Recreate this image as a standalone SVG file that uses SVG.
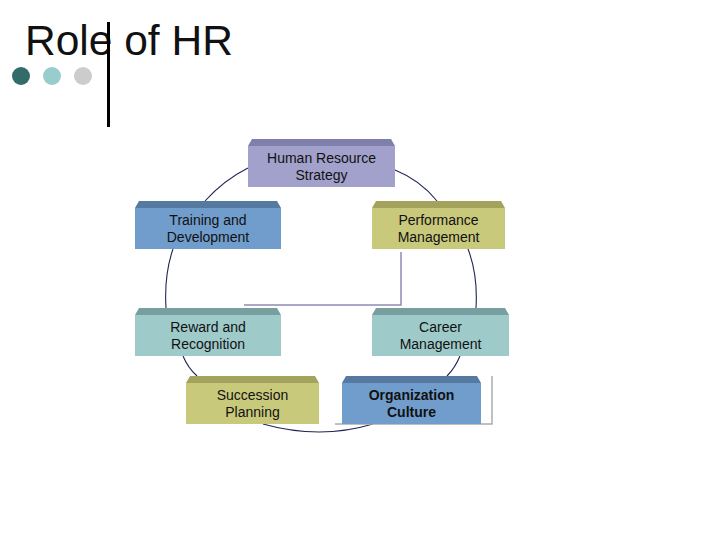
<svg xmlns="http://www.w3.org/2000/svg" width="728" height="546" viewBox="0 0 728 546">
<style>
text{font-family:"Liberation Sans",Arial,sans-serif;fill:#111}
.lbl{font-size:14px;text-anchor:middle}
.arc{fill:none;stroke:#1f2556;stroke-width:1.1}
.purple .face{fill:#a1a1cc}.purple .bev{fill:#7f7fab}
.blue .face{fill:#709dcb}.blue .bev{fill:#5679a2}
.olive .face{fill:#c9c97c}.olive .bev{fill:#a3a35d}
.teal .face{fill:#9fcaca}.teal .bev{fill:#789f9f}
</style>
<rect width="728" height="546" fill="#fff"/>
<g id="title">
<text x="25" y="55" style="font-size:42.5px">Role of HR</text>
<line x1="108.5" y1="22" x2="108.5" y2="127" stroke="#000" stroke-width="3"/>
<circle cx="21" cy="76" r="9" fill="#336b6b"/>
<circle cx="52" cy="76" r="9" fill="#99cccc"/>
<circle cx="83" cy="76" r="9" fill="#cccccc"/>
</g>
<g id="connectors">
<path class="arc" d="M248,168 Q224,180 205,201"/>
<path class="arc" d="M395,170 Q420,180 437,201"/>
<path class="arc" d="M173,249 Q164,275 166,308"/>
<path class="arc" d="M468,249 Q478,275 476,308"/>
<path class="arc" d="M183,356 Q188,368 197,376"/>
<path class="arc" d="M460,356 Q455,368 447,376"/>
<path class="arc" d="M263,424 Q320,440 373,424"/>
<polyline points="401,252 401,305 244,305" fill="none" stroke="#8d8db5" stroke-width="1.5"/>
<polyline points="335,424 492,424 492,376" fill="none" stroke="#acacac" stroke-width="1.5"/>
</g>
<g id="hr-strategy" class="purple">
<polygon class="bev" points="252,139 391,139 395,146 248,146"/>
<rect class="face" x="248" y="146" width="147" height="41"/>
<text class="lbl" x="321.5" y="163">Human Resource</text>
<text class="lbl" x="321.5" y="180">Strategy</text>
</g>
<g id="training" class="blue">
<polygon class="bev" points="139,201 277,201 281,208 135,208"/>
<rect class="face" x="135" y="208" width="146" height="41"/>
<text class="lbl" x="208" y="225">Training and</text>
<text class="lbl" x="208" y="242">Development</text>
</g>
<g id="performance" class="olive">
<polygon class="bev" points="376,201 501,201 505,208 372,208"/>
<rect class="face" x="372" y="208" width="133" height="41"/>
<text class="lbl" x="438.5" y="225">Performance</text>
<text class="lbl" x="438.5" y="242">Management</text>
</g>
<g id="reward" class="teal">
<polygon class="bev" points="139,308 277,308 281,315 135,315"/>
<rect class="face" x="135" y="315" width="146" height="41"/>
<text class="lbl" x="208" y="332">Reward and</text>
<text class="lbl" x="208" y="349">Recognition</text>
</g>
<g id="career" class="teal">
<polygon class="bev" points="376,308 505,308 509,315 372,315"/>
<rect class="face" x="372" y="315" width="137" height="41"/>
<text class="lbl" x="440.5" y="332">Career</text>
<text class="lbl" x="440.5" y="349">Management</text>
</g>
<g id="succession" class="olive">
<polygon class="bev" points="190,376 315,376 319,383 186,383"/>
<rect class="face" x="186" y="383" width="133" height="41"/>
<text class="lbl" x="252.5" y="400">Succession</text>
<text class="lbl" x="252.5" y="417">Planning</text>
</g>
<g id="organization" class="blue">
<polygon class="bev" points="346,376 477,376 481,383 342,383"/>
<rect class="face" x="342" y="383" width="139" height="41"/>
<text class="lbl" x="411.5" y="400" font-weight="bold">Organization</text>
<text class="lbl" x="411.5" y="417" font-weight="bold">Culture</text>
</g>
</svg>
